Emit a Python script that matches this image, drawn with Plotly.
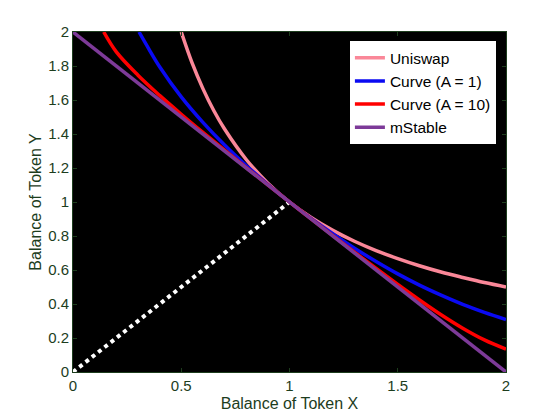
import plotly.graph_objects as go

# Uniswap (constant product) curve
uni_x = [0.5, 0.55, 0.6, 0.65, 0.7, 0.8, 0.9, 1.0, 1.1, 1.2, 1.3, 1.4, 1.5, 1.6, 1.7, 1.8, 1.9, 2.0]
uni_y = [2.0, 1.818, 1.667, 1.538, 1.429, 1.25, 1.111, 1.0, 0.909, 0.833, 0.769, 0.714, 0.667, 0.625, 0.588, 0.556, 0.526, 0.5]

# Curve A = 1
c1_x = [0.305, 0.35, 0.4, 0.5, 0.6, 0.7, 0.8, 0.9, 1.0, 1.1, 1.2, 1.3, 1.4, 1.5, 1.6, 1.7, 1.8, 1.9, 2.0]
c1_y = [2.0, 1.901, 1.796, 1.618, 1.468, 1.335, 1.215, 1.104, 1.0, 0.903, 0.813, 0.728, 0.650, 0.577, 0.511, 0.452, 0.398, 0.351, 0.309]

# Curve A = 10
c10_x = [0.142, 0.2, 0.3, 0.4, 0.5, 0.6, 0.7, 0.8, 0.9, 1.0, 1.1, 1.2, 1.3, 1.4, 1.5, 1.6, 1.7, 1.8, 1.9, 2.0]
c10_y = [2.0, 1.883, 1.746, 1.627, 1.516, 1.409, 1.305, 1.202, 1.101, 1.0, 0.901, 0.802, 0.705, 0.609, 0.515, 0.424, 0.337, 0.258, 0.189, 0.135]

# mStable (constant sum)
ms_x = [0.0, 2.0]
ms_y = [2.0, 0.0]

# Equal-balance reference line
ref_x = [0.0, 1.0]
ref_y = [0.0, 1.0]

x_ticks = [0, 0.5, 1, 1.5, 2]
x_tick_text = ["0", "0.5", "1", "1.5", "2"]
y_ticks = [0, 0.2, 0.4, 0.6, 0.8, 1, 1.2, 1.4, 1.6, 1.8, 2]
y_tick_text = ["0", "0.2", "0.4", "0.6", "0.8", "1", "1.2", "1.4", "1.6", "1.8", "2"]

green = "#1d3d1d"

fig = go.Figure()
fig.add_trace(go.Scatter(x=ref_x, y=ref_y, mode="lines", showlegend=False,
                         line=dict(color="white", width=4, dash="4px,4px")))
fig.add_trace(go.Scatter(x=uni_x, y=uni_y, mode="lines", name="Uniswap",
                         line=dict(color="#fa8798", width=3.5, shape="spline")))
fig.add_trace(go.Scatter(x=c1_x, y=c1_y, mode="lines", name="Curve (A = 1)",
                         line=dict(color="#0a0af2", width=3.5, shape="spline")))
fig.add_trace(go.Scatter(x=c10_x, y=c10_y, mode="lines", name="Curve (A = 10)",
                         line=dict(color="#ff0000", width=3.5, shape="spline")))
fig.add_trace(go.Scatter(x=ms_x, y=ms_y, mode="lines", name="mStable",
                         line=dict(color="#7d3a98", width=3.5)))

fig.update_layout(
    template="none",
    width=544, height=404,
    margin=dict(l=65, r=46, t=24, b=40),
    paper_bgcolor="white", plot_bgcolor="black",
    font=dict(family="Liberation Sans, Arial, sans-serif", size=15, color=green),
    legend=dict(x=0.979, y=0.976, xanchor="right", yanchor="top",
                bgcolor="white", bordercolor="black", borderwidth=1,
                font=dict(size=15.5, color="black"),
                tracegroupgap=0, itemwidth=30),
    xaxis=dict(range=[0, 2], tickvals=x_ticks, ticktext=x_tick_text,
               showgrid=False, zeroline=False, showline=True, linecolor=green,
               ticks="inside", ticklen=4, tickcolor=green, mirror="ticks",
               automargin=False,
               title=dict(text="Balance of Token X", font=dict(size=16, color=green), standoff=5)),
    yaxis=dict(range=[0, 2], tickvals=y_ticks, ticktext=y_tick_text,
               showgrid=False, zeroline=False, showline=True, linecolor=green,
               ticks="inside", ticklen=4, tickcolor=green, mirror="ticks",
               automargin=False,
               title=dict(text="Balance of Token Y", font=dict(size=16, color=green), standoff=2)),
)

fig.write_html("out.html")
